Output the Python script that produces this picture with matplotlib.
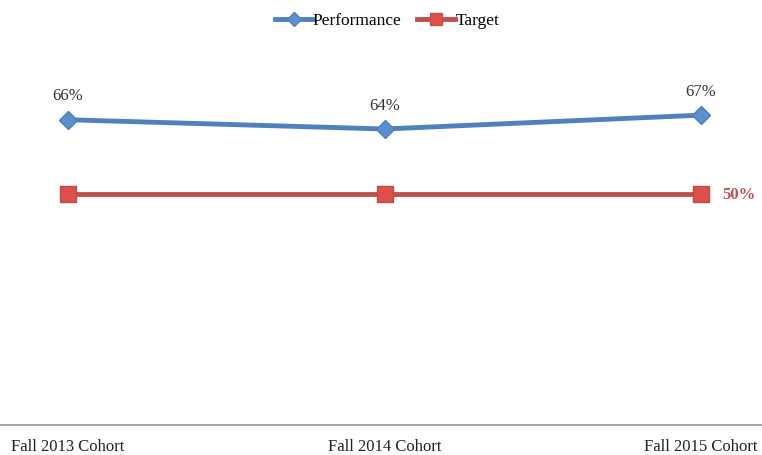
import matplotlib
matplotlib.use("Agg")
import matplotlib.pyplot as plt
from matplotlib.lines import Line2D

categories = ["Fall 2013 Cohort", "Fall 2014 Cohort", "Fall 2015 Cohort"]
performance = [66, 64, 67]
target = [50, 50, 50]

plt.rcParams["font.family"] = ["Liberation Serif", "DejaVu Serif"]

blue = "#4F81BD"
red = "#C0504D"

fig = plt.figure(figsize=(7.62, 4.55), dpi=100)
ax = fig.add_axes([0.0, 30 / 455, 1.0, 370 / 455])
x = list(range(len(categories)))

ax.plot(x, performance, color=blue, lw=3.5, marker="D", ms=9,
        markerfacecolor="#5b8fd0", markeredgecolor="#4a7fc0", zorder=3)
ax.plot(x, target, color=red, lw=3.5, marker="s", ms=12,
        markerfacecolor="#dc4f4c", markeredgecolor="#c04a47", zorder=3)

for xi, v in zip(x, performance):
    ax.annotate(f"{v}%", (xi, v), xytext=(0, 11), textcoords="offset points",
                ha="center", va="bottom", fontsize=12, color="#333333")
ax.annotate(f"{target[-1]}%", (x[-1], target[-1]), xytext=(15, -1),
            textcoords="offset points", ha="left", va="center",
            fontsize=12, color=red, fontweight="bold")

ax.set_xlim(-68 / 316.5, 2 + 61 / 316.5)
ax.set_ylim(0, 80)
ax.set_xticks(x)
ax.set_xticklabels(categories, fontsize=12, color="#222222")
ax.tick_params(axis="x", length=0, pad=10)
ax.set_yticks([])
for side in ["top", "left", "right"]:
    ax.spines[side].set_visible(False)
ax.spines["bottom"].set_color("#a6a6a6")
ax.spines["bottom"].set_linewidth(1.5)

handles = [
    Line2D([0], [0], color=blue, lw=3.5, marker="D", ms=7, markerfacecolor="#5b8fd0"),
    Line2D([0], [0], color=red, lw=3.5, marker="s", ms=8, markerfacecolor="#dc4f4c"),
]
fig.legend(handles, ["Performance", "Target"], loc="center",
           bbox_to_anchor=(387 / 762, 1 - 21 / 455), ncol=2, frameon=False,
           fontsize=12.5, handlelength=2.2, handletextpad=0.0, columnspacing=0.9)

fig.savefig("out.png", dpi=100)
